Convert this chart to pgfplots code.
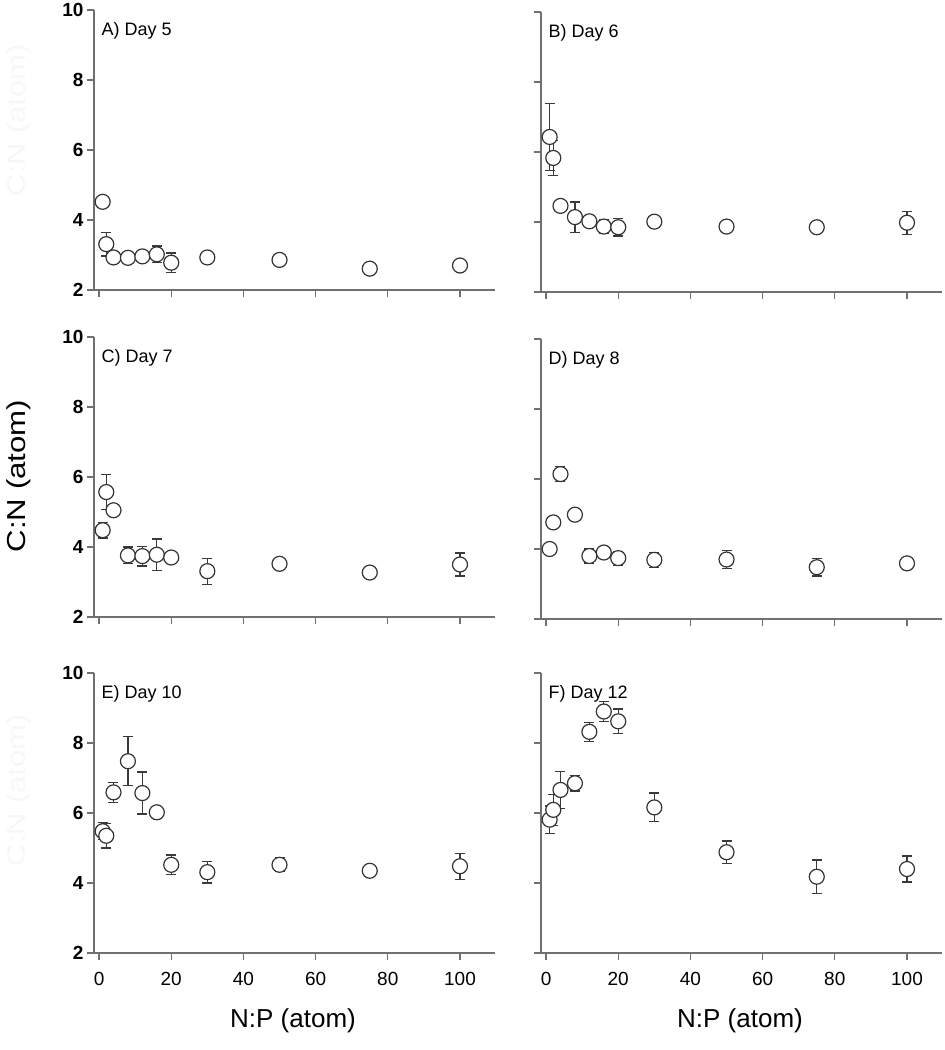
\documentclass[border=0pt]{standalone}
\usepackage{fontspec}
\setmainfont{Liberation Sans}
\usepackage{pgfplots}
\pgfplotsset{compat=1.18}
\usepackage{pgfplotstable}
\definecolor{axgray}{HTML}{707070}
\definecolor{mkgray}{HTML}{333333}
\definecolor{ebgray}{HTML}{3A3A3A}

\pgfplotstableread{
x y e
1 4.52 0.08
2 3.31 0.34
4 2.93 0.06
8 2.92 0.05
12 2.96 0.06
16 3.02 0.24
20 2.78 0.28
30 2.93 0.06
50 2.86 0.14
75 2.61 0.05
100 2.70 0.06
}\dataA
\pgfplotstableread{
x y e
1 6.43 0.95
2 5.83 0.50
4 4.46 0.08
8 4.14 0.43
12 4.02 0.08
16 3.87 0.20
20 3.85 0.25
30 4.01 0.08
50 3.87 0.08
75 3.85 0.08
100 3.98 0.33
}\dataB
\pgfplotstableread{
x y e
1 4.48 0.22
2 5.57 0.50
4 5.05 0.15
8 3.76 0.24
12 3.74 0.28
16 3.78 0.45
20 3.70 0.10
30 3.31 0.37
50 3.52 0.08
75 3.27 0.05
100 3.50 0.33
}\dataC
\pgfplotstableread{
x y e
1 4.00 0.05
2 4.76 0.05
4 6.14 0.22
8 4.98 0.15
12 3.80 0.20
16 3.90 0.08
20 3.74 0.20
30 3.69 0.22
50 3.70 0.26
75 3.48 0.25
100 3.59 0.08
}\dataD
\pgfplotstableread{
x y e
1 5.48 0.24
2 5.35 0.35
4 6.59 0.29
8 7.48 0.70
12 6.57 0.60
16 6.02 0.15
20 4.52 0.28
30 4.31 0.31
50 4.52 0.20
75 4.35 0.05
100 4.48 0.37
}\dataE
\pgfplotstableread{
x y e
1 5.81 0.39
2 6.09 0.44
4 6.66 0.52
8 6.85 0.22
12 8.32 0.27
16 8.90 0.29
20 8.62 0.35
30 6.16 0.41
50 4.88 0.32
75 4.18 0.48
100 4.40 0.37
}\dataF

\pgfplotsset{
  panel/.style={
    scale only axis, width=401pt, height=280pt,
    xmin=-1.4, xmax=109.7, ymin=2, ymax=10,
    axis lines*=left,
    axis line style={-, draw=axgray, line width=1.2pt},
    xtick={0,20,...,100}, ytick={2,4,...,10},
    tick align=outside, major tick length=7pt,
    tick style={draw=axgray, line width=1.2pt},
    /pgf/number format/assume math mode=true,
    xticklabel style={font=\fontsize{19}{19}\selectfont, text=black, yshift=-9pt},
    yticklabel style={font=\fontsize{19}{19}\selectfont\bfseries, text=black},
    clip=false,
  },
  nox/.style={xticklabels={}},
  noy/.style={yticklabels={}},
}

\newcommand{\series}[1]{%
  \addplot[forget plot, draw=none, mark=none,
    error bars/.cd, y dir=both, y explicit,
    error bar style={draw=ebgray, line width=1.2pt},
    error mark options={rotate=90, mark size=5pt, draw=ebgray, line width=1.2pt}]
    table[x=x, y=y, y error=e] {#1};
  \addplot[only marks, mark=*, mark size=7.5pt,
    mark options={fill=white, draw=mkgray, line width=1.2pt}]
    table[x=x, y=y] {#1};
}
\newcommand{\plab}[1]{%
  \node[anchor=base west, xshift=4pt, yshift=-25pt,
    font=\fontsize{18}{18}\selectfont] at (rel axis cs:0,1) {#1};}

\begin{document}
\begin{tikzpicture}
\useasboundingbox (0pt,0pt) rectangle (945pt,-1050pt);
% row 1
\begin{axis}[panel, nox, at={(94pt,-290pt)}]
\series{\dataA}
\plab{A) Day 5}
\end{axis}
\begin{axis}[panel, nox, noy, at={(541pt,-292pt)}]
\series{\dataB}
\plab{B) Day 6}
\end{axis}
% row 2
\begin{axis}[panel, nox, at={(94pt,-617pt)}]
\series{\dataC}
\plab{C) Day 7}
\end{axis}
\begin{axis}[panel, nox, noy, at={(541pt,-619pt)}]
\series{\dataD}
\plab{D) Day 8}
\end{axis}
% row 3
\begin{axis}[panel, at={(94pt,-953pt)}]
\series{\dataE}
\plab{E) Day 10}
\end{axis}
\begin{axis}[panel, noy, at={(541pt,-953pt)}]
\series{\dataF}
\plab{F) Day 12}
\end{axis}
% axis labels
\node[rotate=90, font=\fontsize{26}{26}\selectfont] at (19pt,-476pt) {\scalebox{1.2}[1]{C:N (atom)}};
\node[rotate=90, font=\fontsize{26}{26}\selectfont, text=black!3] at (19pt,-120pt) {\scalebox{1.2}[1]{C:N (atom)}};
\node[rotate=90, font=\fontsize{26}{26}\selectfont, text=black!3] at (19pt,-790pt) {\scalebox{1.2}[1]{C:N (atom)}};
\node[anchor=base, font=\fontsize{26}{26}\selectfont] at (293pt,-1027pt) {N:P (atom)};
\node[anchor=base, font=\fontsize{26}{26}\selectfont] at (740pt,-1027pt) {N:P (atom)};
\end{tikzpicture}
\end{document}
